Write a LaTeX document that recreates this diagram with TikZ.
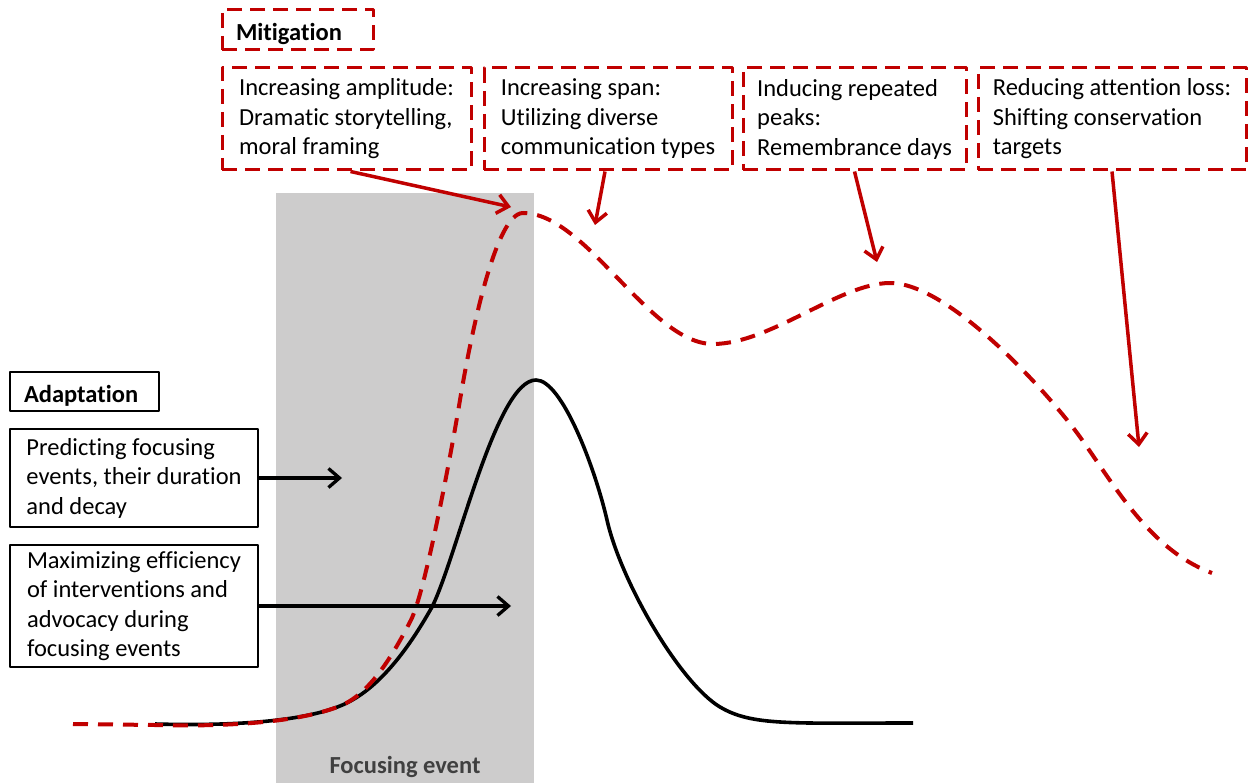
\documentclass[tikz,border=0pt]{standalone}
\usepackage{fontspec}
\setmainfont{Carlito}[Ligatures=NoCommon]
\usetikzlibrary{arrows.meta}

\definecolor{mitred}{HTML}{C00000}
\definecolor{eventgray}{HTML}{CDCCCC}
\definecolor{labelgray}{HTML}{404040}
\newcommand{\headtopgap}{\rule{0pt}{25pt}}

\begin{document}
\begin{tikzpicture}[x=1pt,y=-1pt,line join=bevel,
  >={Straight Barb[length=11pt,width=19pt]},
  txt/.style={font=\fontsize{24.5pt}{29.5pt}\selectfont,align=left,inner xsep=14pt,inner ysep=0pt},
  redbox/.style={txt,draw=mitred,line width=3pt,dash pattern=on 15pt off 8pt},
  blackbox/.style={txt,draw=black,line width=2.8pt},
  redarrow/.style={->,draw=mitred,line width=3.5pt},
  blackarrow/.style={->,draw=black,line width=3.3pt},
  reddash/.style={draw=mitred,line width=4pt,dash pattern=on 15pt off 10pt},
]
\useasboundingbox (0,0) rectangle (1249,783);
%%
\fill[eventgray] (276,193) rectangle (534,783);
\node (node_focus) at (405,767) [txt,font=\bfseries\fontsize{24.5pt}{29.5pt}\selectfont,text=labelgray] {Focusing event};
%
\node (node_mit) at (297.5,30) [redbox,text width=123pt,minimum height=40pt] {\headtopgap\textbf{Mitigation}};
\node (node_amp) at (346.5,119) [redbox,minimum width=249pt,minimum height=102pt] {Increasing amplitude:\\Dramatic storytelling,\\moral framing};
\node (node_span) at (608,119) [redbox,minimum width=248pt,minimum height=102pt] {Increasing span:\\Utilizing diverse\\communication types};
\node (node_peaks) at (854.5,119) [redbox,minimum width=223pt,minimum height=102pt] {Inducing repeated\\peaks:\\Remembrance days};
\node (node_loss) at (1112,119) [redbox,minimum width=268pt,minimum height=102pt] {Reducing attention loss:\\Shifting conservation\\targets};
%
\node (node_adapt) at (84.5,391.5) [blackbox,text width=121pt,minimum height=39pt] {\headtopgap\textbf{Adaptation}};
\node (node_pred) at (134,478) [blackbox,minimum width=248pt,minimum height=98pt] {Predicting focusing\\events, their duration\\and decay};
\node (node_eff) at (134,606) [blackbox,minimum width=248pt,minimum height=122pt] {Maximizing efficiency\\of interventions and\\advocacy during\\focusing events};
%
\coordinate (tip_amp) at (511,207);
\coordinate (tip_span) at (595,225);
\coordinate (tip_peaks) at (877,262);
\coordinate (tip_loss) at (1139,447);
\coordinate (tip_pred) at (342,478);
\coordinate (tip_eff) at (511,606);
%
\draw [line width=3.6pt] (155,724) .. controls (230,726) and (300,722) .. (340,706)
  .. controls (375,692) and (405,655) .. (432,607)
  .. controls (457,557) and (496,380) .. (536,380)
  .. controls (562,380) and (595,468) .. (607,520)
  .. controls (621,582) and (680,683) .. (720,707)
  .. controls (752,726) and (790,723) .. (913,723);
\draw [reddash] (73,724) -- (155,725) .. controls (230,727) and (300,722) .. (340,706)
  .. controls (370,694) and (393,655) .. (411,620)
  .. controls (425,592) and (450,460) .. (460,400)
  .. controls (470,340) and (495,213) .. (523,213)
  .. controls (586,213) and (650,344) .. (713,344)
  .. controls (770,344) and (840,283) .. (890,283)
  .. controls (950,283) and (1050,395) .. (1080,437)
  .. controls (1115,486) and (1150,550) .. (1212,573);
%
\draw [redarrow] ([xshift=4pt]node_amp.south) -- (tip_amp);
\draw [redarrow] ([xshift=-3pt]node_span.south) -- (tip_span);
\draw [redarrow] (node_peaks.south) -- (tip_peaks);
\draw [redarrow] (node_loss.south) -- (tip_loss);
\draw [blackarrow] (node_pred.east) -- (tip_pred);
\draw [blackarrow] (node_eff.east) -- (tip_eff);
%
\end{tikzpicture}
\end{document}
